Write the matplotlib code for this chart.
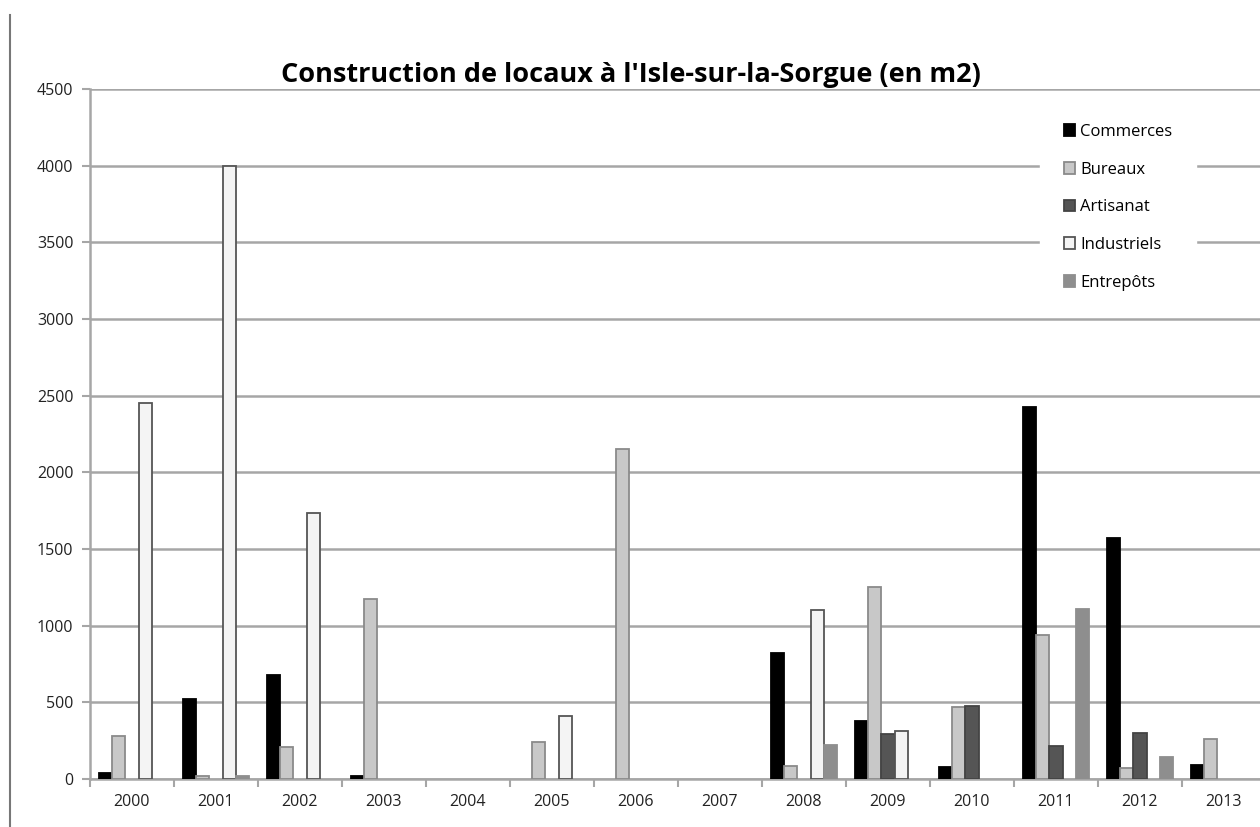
import numpy as np
import matplotlib
matplotlib.use("Agg")
import matplotlib.pyplot as plt
from matplotlib.lines import Line2D

years = ["2000", "2001", "2002", "2003", "2004", "2005", "2006",
         "2007", "2008", "2009", "2010", "2011", "2012", "2013"]
series_names = ["Commerces", "Bureaux", "Artisanat", "Industriels", "Entrepôts"]

commerces   = [40, 520, 680, 20, 0, 0, 0, 0, 820, 380, 80, 2425, 1570, 90]
bureaux     = [280, 20, 210, 1175, 0, 240, 2155, 0, 85, 1250, 470, 940, 70, 260]
artisanat   = [0, 0, 0, 0, 0, 0, 0, 0, 0, 295, 475, 215, 300, 0]
industriels = [2450, 4000, 1735, 0, 0, 410, 0, 0, 1100, 315, 0, 0, 0, 0]
entrepots   = [0, 20, 0, 0, 0, 0, 0, 0, 220, 0, 0, 1110, 145, 0]

all_series = [commerces, bureaux, artisanat, industriels, entrepots]
faces = ["#000000", "#c8c8c8", "#555555", "#f4f4f4", "#8e8e8e"]
edges = ["#000000", "#8a8a8a", "#444444", "#555555", "#8e8e8e"]

plt.rcParams['font.family'] = ['Open Sans', 'DejaVu Sans']

fig = plt.figure(figsize=(12.6, 8.27), dpi=100)
ax = fig.add_axes([90 / 1260, 48 / 827, 1176 / 1260, 690 / 827])

x = np.arange(len(years))
w = 0.155
for k, (vals, name) in enumerate(zip(all_series, series_names)):
    vals = np.array(vals, dtype=float)
    keep = vals > 0          # empty years get no bar at all
    off = (k - 2) * w
    ax.bar(x[keep] + off, vals[keep], width=w, color=faces[k], edgecolor=edges[k],
           linewidth=1.3, label=name, zorder=3)

ax.set_xlim(-0.5, len(years) - 0.5)
ax.set_ylim(0, 4500)
ax.set_yticks(np.arange(0, 4501, 500))
ax.grid(axis='y', color='#a6a6a6', linewidth=1.8, zorder=0)
ax.set_axisbelow(True)

for s in ['top', 'right']:
    ax.spines[s].set_visible(False)
ax.spines['left'].set_color('#a6a6a6')
ax.spines['left'].set_linewidth(1.8)
ax.spines['bottom'].set_color('#a6a6a6')
ax.spines['bottom'].set_linewidth(1.8)

ax.set_xticks(x)
ax.set_xticklabels(years, fontsize=11.5, color='#222222')
ax.tick_params(axis='x', length=0, pad=11)
ax.set_xticks(np.arange(-0.5, len(years), 1.0), minor=True)
ax.tick_params(axis='x', which='minor', length=6, width=1.5, color='#a6a6a6')
ax.tick_params(axis='y', length=6, width=1.5, color='#a6a6a6',
               labelsize=11.5, labelcolor='#222222', pad=6)

ax.set_title("Construction de locaux à l'Isle-sur-la-Sorgue (en m2)",
             fontsize=19.5, fontweight='bold', pad=5, x=0.46)

leg = ax.legend(loc='upper left', bbox_to_anchor=(0.801, 0.995), frameon=True,
                fontsize=12, handlelength=0.7, handleheight=0.7,
                handletextpad=0.3, labelspacing=1.3, borderpad=1.4)
leg.get_frame().set_facecolor('white')
leg.get_frame().set_edgecolor('white')
leg.get_frame().set_alpha(1.0)
leg.set_zorder(5)

# page border line at the left
fig.add_artist(Line2D([10 / 1260, 10 / 1260], [0, 1 - 15 / 827],
                      transform=fig.transFigure, color='#777777', linewidth=1.5))

fig.savefig("out.png", dpi=100)
